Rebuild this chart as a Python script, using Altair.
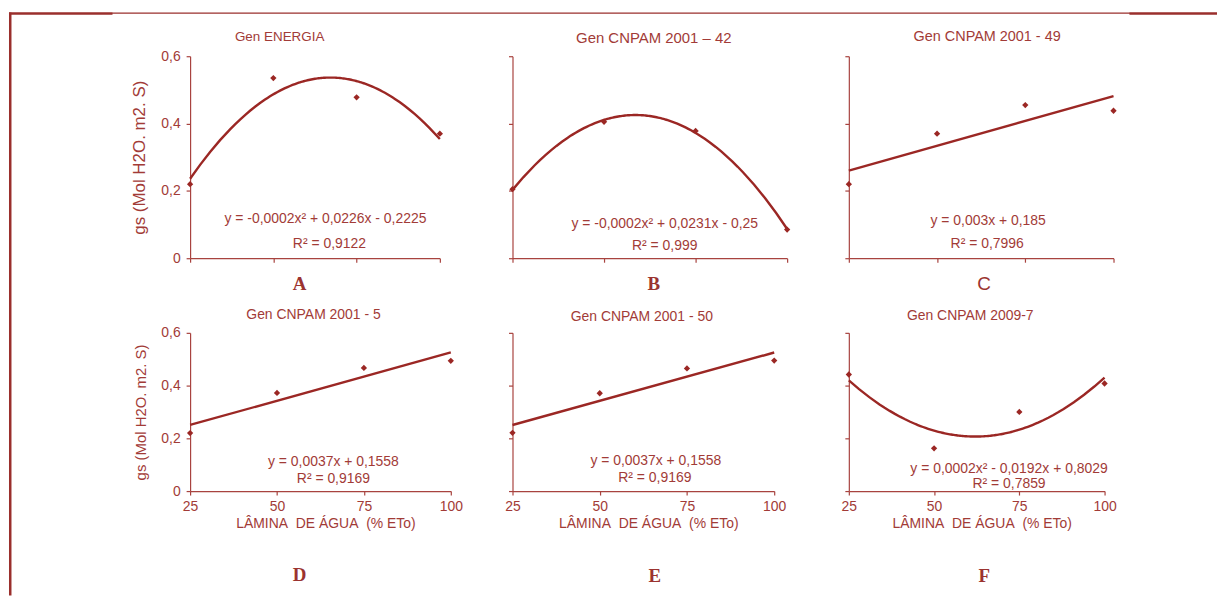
import altair as alt
import pandas as pd

# ---------------- data ----------------
water_levels = [25, 50, 75, 100]
gs_A = [0.220, 0.535, 0.478, 0.370]
gs_B = [0.205, 0.405, 0.378, 0.085]
gs_C = [0.220, 0.370, 0.455, 0.438]
gs_D = [0.220, 0.372, 0.467, 0.494]
gs_E = [0.221, 0.371, 0.465, 0.495]
gs_F = [0.442, 0.162, 0.300, 0.408]
series = [gs_A, gs_B, gs_C, gs_D, gs_E, gs_F]

panel_letters = ["A", "B", "C", "D", "E", "F"]
panel_titles = ["Gen ENERGIA", "Gen CNPAM 2001 \u2013 42", "Gen CNPAM 2001 - 49",
                "Gen CNPAM 2001 - 5", "Gen CNPAM 2001 - 50", "Gen CNPAM 2009-7"]
fit_methods = ["poly", "poly", "linear", "linear", "linear", "poly"]
equations = ["y = -0,0002x\u00b2 + 0,0226x - 0,2225",
             "y = -0,0002x\u00b2 + 0,0231x - 0,25",
             "y = 0,003x + 0,185",
             "y = 0,0037x + 0,1558",
             "y = 0,0037x + 0,1558",
             "y = 0,0002x\u00b2 - 0,0192x + 0,8029"]
r2_labels = ["R\u00b2 = 0,9122", "R\u00b2 = 0,999", "R\u00b2 = 0,7996",
             "R\u00b2 = 0,9169", "R\u00b2 = 0,9169", "R\u00b2 = 0,7859"]
y_ticks = [0, 0.2, 0.4, 0.6]
x_title = "L\u00c2MINA\u00a0 DE \u00c1GUA\u00a0 (% ETo)"
y_title = "gs (Mol H2O. m2. S)"

# ---------------- layout / style (pixels, relative to each plot origin) ----------------
widths = [251, 276, 266, 262, 263, 257]
heights = [203, 203, 203, 159, 159, 159]
col_spacing = 62
row_spacing = 75
title_pos = [(90, -19), (142, -18), (139, -19), (124, -18), (130, -16), (122, -17)]
title_sizes = [13.5, 15, 14.5, 14, 14, 14]
eq_pos = [(136, 164), (153, 169), (140, 166), (144, 130), (144, 129), (161, 137)]
r2_pos = [(140, 189), (153, 191), (139, 189), (144, 147), (143, 146), (161, 152)]
letter_pos = [(110, 229), (142, 229), (136, 229), (110, 243), (143, 244), (136, 244)]
letter_fonts = ["Liberation Serif", "Liberation Serif", "Liberation Sans",
                "Liberation Serif", "Liberation Serif", "Liberation Serif"]
letter_weights = ["bold", "bold", "normal", "bold", "bold", "bold"]
ytitle_size = [17, 0, 0, 15, 0, 0]
# outer frame of the figure, relative to panel A's plot origin: (x1, x2, y1, y2)
frame_boxes = [(-182, -179.5, -44, 542),    # left border
               (-182, 1032, -44, -42.8),     # top border (thin)
               (-182, -78, -44, -41.8),      # top border, thick left piece
               (944, 1032, -44, -41.8)]      # top border, thick right piece

LINE = "#9b2724"
TXT = "#a23b37"
AXIS = "#a8433f"
FRAME = "#9a2f2c"
SANS = "Liberation Sans"

one = alt.Data(values=[{"k": 1}])


def text_layer(text, pos, size, font=SANS, weight="normal", color=TXT):
    return alt.Chart(one).mark_text(
        text=text, fontSize=size, font=font, fontWeight=weight, color=color,
        align="center", baseline="middle"
    ).encode(x=alt.value(pos[0]), y=alt.value(pos[1]))


def box(b, color=FRAME):
    return alt.Chart(one).mark_rect(color=color).encode(
        x=alt.value(b[0]), x2=alt.value(b[1]), y=alt.value(b[2]), y2=alt.value(b[3]))


def panel(i):
    bottom = i >= 3
    left = i in (0, 3)
    w, h = widths[i], heights[i]
    df = pd.DataFrame({"x": water_levels, "y": series[i]})
    if bottom:
        xaxis = alt.Axis(values=water_levels, labelFlush=False, title=x_title,
                         tickSize=4, labelPadding=5, titlePadding=3,
                         labelFontSize=14, titleFontSize=14, titleX=w / 2 + 5,
                         grid=False)
    else:
        xaxis = alt.Axis(values=water_levels, labels=False, title=None,
                         tickSize=4, grid=False)
    if left:
        yaxis = alt.Axis(values=y_ticks, tickSize=4, labelPadding=6, grid=False,
                         labelExpr="datum.value == 0 ? '0' : replace(format(datum.value, '.1f'), '.', ',')",
                         title=y_title, titleFontSize=ytitle_size[i], titlePadding=12,
                         labelFontSize=14)
    else:
        yaxis = alt.Axis(values=y_ticks, tickSize=4, labels=False, title=None, grid=False)
    xs = alt.Scale(domain=[25, 100], nice=False, zero=False)
    ys = alt.Scale(domain=[0, 0.6], nice=False)
    base = alt.Chart(df)
    curve = base.transform_regression(
        "x", "y", method=fit_methods[i], order=2, extent=[25, 100]
    ).mark_line(color=LINE, strokeWidth=2.4).encode(
        x=alt.X("x:Q", scale=xs, axis=xaxis),
        y=alt.Y("y:Q", scale=ys, axis=yaxis))
    pts = base.mark_point(shape="diamond", filled=True, size=40, color=LINE, opacity=1).encode(
        x=alt.X("x:Q", scale=xs, axis=xaxis),
        y=alt.Y("y:Q", scale=ys, axis=yaxis))
    layers = [curve, pts,
              text_layer(panel_titles[i], title_pos[i], title_sizes[i]),
              text_layer(equations[i], eq_pos[i], 14),
              text_layer(r2_labels[i], r2_pos[i], 14),
              text_layer(panel_letters[i], letter_pos[i], 19, font=letter_fonts[i],
                         weight=letter_weights[i], color="#9b3330")]
    if i == 0:
        layers += [box(b) for b in frame_boxes]
    return alt.layer(*layers).properties(width=w, height=h)


p = [panel(i) for i in range(6)]
chart = alt.concat(
    *p, columns=3, bounds="flush",
    spacing={"row": row_spacing, "column": col_spacing},
).properties(
    padding={"left": 0, "top": 2, "right": 0, "bottom": 0},
    background="white",
).configure_view(stroke="transparent").configure_axis(
    domainColor=AXIS, tickColor=AXIS, labelColor=TXT, titleColor=TXT,
    labelFont=SANS, titleFont=SANS, titleFontWeight="normal", domainWidth=1.2,
    tickWidth=1.2)

chart.save("out.html", embed_options={"renderer": "svg", "actions": False})
